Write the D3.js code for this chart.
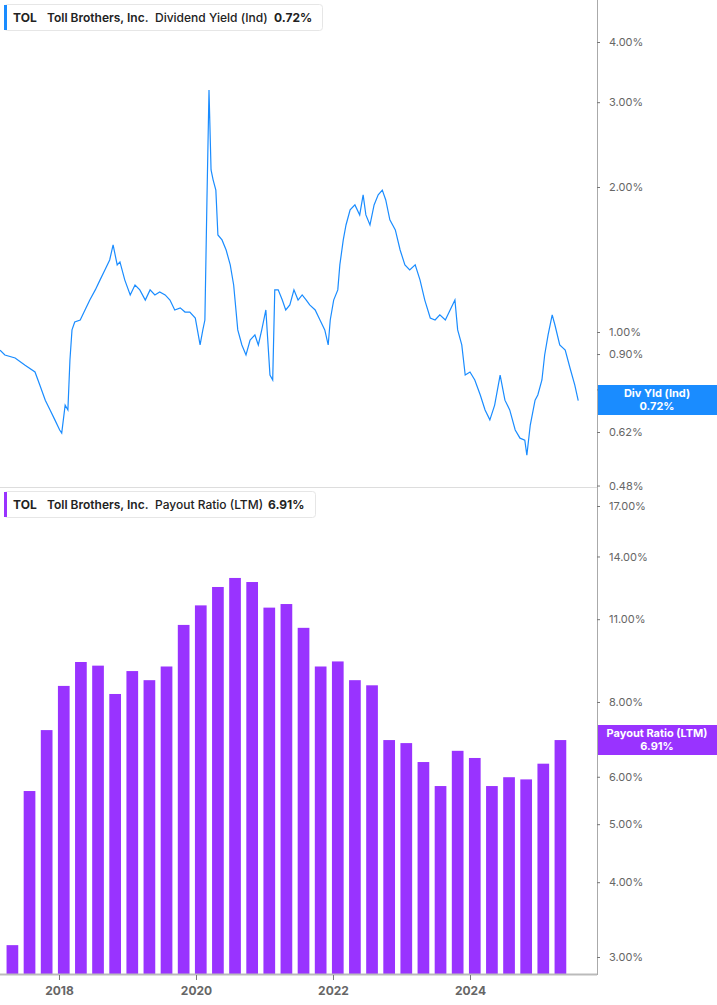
<!DOCTYPE html>
<html><head><meta charset="utf-8">
<script src="https://cdn.jsdelivr.net/npm/d3@7"></script>
<style>body{margin:0;background:#fff;font-family:Inter,"Roboto",sans-serif;}</style>
</head><body><svg id="c" width="717" height="1005"></svg>
<script>
const yieldDates=[2017.14,2017.21,2017.36,2017.50,2017.65,2017.72,2017.80,2017.87,2017.94,2018.01,2018.04,2018.09,2018.13,2018.16,2018.19,2018.23,2018.31,2018.38,2018.45,2018.53,2018.60,2018.67,2018.74,2018.79,2018.85,2018.89,2018.96,2019.04,2019.11,2019.18,2019.26,2019.33,2019.40,2019.47,2019.55,2019.62,2019.69,2019.77,2019.84,2019.91,2019.99,2020.06,2020.10,2020.13,2020.16,2020.19,2020.22,2020.25,2020.29,2020.32,2020.38,2020.44,2020.50,2020.55,2020.61,2020.67,2020.73,2020.79,2020.86,2020.91,2020.96,2021.02,2021.08,2021.12,2021.15,2021.20,2021.26,2021.31,2021.37,2021.43,2021.49,2021.55,2021.61,2021.66,2021.74,2021.81,2021.88,2021.93,2021.96,2022.01,2022.07,2022.10,2022.15,2022.19,2022.25,2022.32,2022.39,2022.44,2022.48,2022.54,2022.60,2022.66,2022.72,2022.77,2022.83,2022.91,2022.98,2023.05,2023.12,2023.20,2023.27,2023.34,2023.42,2023.49,2023.56,2023.64,2023.71,2023.78,2023.82,2023.88,2023.93,2024.00,2024.07,2024.15,2024.22,2024.29,2024.36,2024.44,2024.51,2024.58,2024.66,2024.73,2024.80,2024.83,2024.88,2024.95,2024.99,2025.05,2025.09,2025.14,2025.20,2025.24,2025.31,2025.39,2025.46,2025.53,2025.58];
const yieldValues=[0.917,0.896,0.883,0.854,0.826,0.776,0.722,0.689,0.657,0.626,0.617,0.705,0.689,0.875,1.01,1.049,1.059,1.111,1.165,1.223,1.283,1.345,1.411,1.516,1.378,1.398,1.283,1.194,1.252,1.223,1.165,1.223,1.194,1.211,1.194,1.165,1.111,1.122,1.100,1.100,1.069,0.940,1.01,1.059,1.88,3.18,2.17,2.07,1.97,1.59,1.553,1.48,1.378,1.252,1.01,0.940,0.896,0.962,0.986,0.940,1.01,1.111,0.814,0.795,1.223,1.223,1.165,1.111,1.138,1.223,1.165,1.194,1.165,1.138,1.111,1.059,1.01,0.940,1.059,1.165,1.223,1.378,1.553,1.668,1.793,1.836,1.75,1.926,1.75,1.668,1.836,1.926,1.97,1.88,1.709,1.629,1.48,1.378,1.345,1.378,1.283,1.165,1.069,1.059,1.085,1.059,1.111,1.165,1.01,0.940,0.814,0.826,0.795,0.740,0.689,0.657,0.705,0.814,0.722,0.689,0.626,0.602,0.596,0.555,0.641,0.722,0.740,0.795,0.896,0.986,1.085,1.034,0.940,0.917,0.842,0.776,0.72];
const payoutQuarters=["2017Q2","2017Q3","2017Q4","2018Q1","2018Q2","2018Q3","2018Q4","2019Q1","2019Q2","2019Q3","2019Q4","2020Q1","2020Q2","2020Q3","2020Q4","2021Q1","2021Q2","2021Q3","2021Q4","2022Q1","2022Q2","2022Q3","2022Q4","2023Q1","2023Q2","2023Q3","2023Q4","2024Q1","2024Q2","2024Q3","2024Q4","2025Q1","2025Q2"];
const payoutValues=[3.14,5.68,7.18,8.51,9.33,9.2,8.25,9.01,8.7,9.17,10.76,11.6,12.45,12.89,12.69,11.5,11.66,10.64,9.17,9.35,8.7,8.53,6.91,6.83,6.35,5.79,6.63,6.45,5.79,5.99,5.94,6.31,6.91];
const yieldTicks=[0.48,0.62,0.76,0.9,1.0,2.0,3.0,4.0];
const payoutTicks=[3,4,5,6,8,11,14,17];
const yearTicks=[2018,2020,2022,2024];

const svg=d3.select("#c");
const axisX=597, blue="#1a8cff", purple="#9933ff";
const x=d3.scaleLinear().domain([2017.139,2025.854]).range([0,axisX]);
const y1=d3.scaleLog().domain([1,4]).range([332,42]);
const y2=d3.scaleLog().domain([3,17]).range([957,506]);
const qDate=q=>+q.slice(0,4)+(+q.slice(5)-1)*0.25+0.07;

const bw=11.7;
svg.append("g").selectAll("rect").data(payoutValues).join("rect")
 .attr("x",(d,i)=>x(qDate(payoutQuarters[i]))-bw/2).attr("width",bw)
 .attr("y",d=>y2(d)).attr("height",d=>974-y2(d)).attr("fill",purple);

const line=d3.line().x((d,i)=>x(yieldDates[i])).y(d=>y1(d));
svg.append("path").datum(yieldValues).attr("d",line).attr("fill","none").attr("stroke",blue).attr("stroke-width",1.2);

svg.append("line").attr("x1",0).attr("x2",axisX).attr("y1",487.5).attr("y2",487.5).attr("stroke","#ddd");
svg.append("line").attr("x1",axisX+0.5).attr("x2",axisX+0.5).attr("y1",0).attr("y2",975).attr("stroke","#aaa");
svg.append("line").attr("x1",0).attr("x2",axisX).attr("y1",974.5).attr("y2",974.5).attr("stroke","#bbb").attr("stroke-width",2);

function yAxis(scale,ticks){
 const g=svg.append("g").attr("transform",`translate(${axisX},0)`)
  .call(d3.axisRight(scale).tickValues(ticks).tickFormat(d=>d.toFixed(2)+"%").tickSize(3).tickPadding(9));
 g.select(".domain").remove();
 g.selectAll("line").attr("stroke","#777");
 g.selectAll("text").attr("fill","#666").style("font-size","11px").style("font-family","Inter,sans-serif");
}
yAxis(y1,yieldTicks); yAxis(y2,payoutTicks);

const gx=svg.append("g").attr("transform","translate(0,975)")
 .call(d3.axisBottom(x).tickValues(yearTicks).tickFormat(d3.format("d")).tickSize(5).tickPadding(6));
gx.select(".domain").remove();
gx.selectAll("line").attr("stroke","#777");
gx.selectAll("text").attr("fill","#666").style("font-size","12px").style("font-weight","bold").style("font-family","Inter,sans-serif");

function tag(y,h,color,l1,l2){
 svg.append("rect").attr("x",axisX+1).attr("y",y).attr("width",717-axisX).attr("height",h).attr("fill",color);
 svg.append("text").attr("x",657).attr("y",y+12).attr("text-anchor","middle").attr("fill","#fff").style("font-size","11px").style("font-weight","bold").text(l1);
 svg.append("text").attr("x",657).attr("y",y+25).attr("text-anchor","middle").attr("fill","#fff").style("font-size","11px").style("font-weight","bold").text(l2);
}
tag(385,30,blue,"Div Yld (Ind)","0.72%");
tag(725,30,purple,"Payout Ratio (LTM)","6.91%");

function legend(y,w,color,parts){
 svg.append("rect").attr("x",4.5).attr("y",y+0.5).attr("width",w).attr("height",26).attr("rx",3).attr("fill","#fff").attr("stroke","#e6e6e6");
 svg.append("rect").attr("x",4).attr("y",y+1).attr("width",3).attr("height",25).attr("fill",color);
 const t=svg.append("text").attr("y",y+18).style("font-size","12px").attr("fill","#222");
 parts.forEach(p=>t.append("tspan").attr("x",p[0]).style("font-weight",p[2]).text(p[1]));
}
legend(4,318,blue,[[13,"TOL","bold"],[47,"Toll Brothers, Inc.","600"],[155,"Dividend Yield (Ind)","500"],[274,"0.72%","bold"]]);
legend(491,311,purple,[[13,"TOL","bold"],[47,"Toll Brothers, Inc.","600"],[155,"Payout Ratio (LTM)","500"],[268,"6.91%","bold"]]);
</script></body></html>
